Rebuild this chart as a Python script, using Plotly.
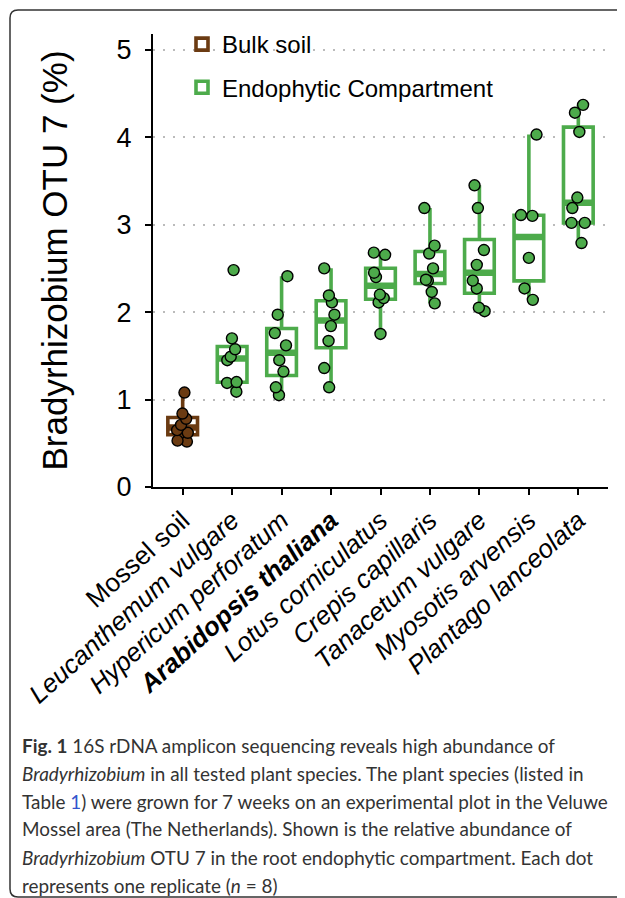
import numpy as np
import plotly.graph_objects as go

# ---------------- data ----------------
categories = ["Mossel soil", "Leucanthemum vulgare", "Hypericum perforatum", "Arabidopsis thaliana",
              "Lotus corniculatus", "Crepis capillaris", "Tanacetum vulgare", "Myosotis arvensis",
              "Plantago lanceolata"]
tick_labels = ["Mossel soil", "<i>Leucanthemum vulgare</i>", "<i>Hypericum perforatum</i>",
               "<b><i>Arabidopsis thaliana</i></b>", "<i>Lotus corniculatus</i>", "<i>Crepis capillaris</i>",
               "<i>Tanacetum vulgare</i>", "<i>Myosotis arvensis</i>", "<i>Plantago lanceolata</i>"]

bulk_soil = [1.08, 0.84, 0.78, 0.71, 0.65, 0.62, 0.53, 0.52]
leucanthemum = [2.48, 1.70, 1.575, 1.49, 1.45, 1.20, 1.19, 1.09]
hypericum = [2.41, 1.97, 1.76, 1.62, 1.45, 1.32, 1.14, 1.05]
arabidopsis = [2.50, 2.19, 2.11, 1.97, 1.84, 1.67, 1.36, 1.14]
lotus = [2.68, 2.655, 2.45, 2.40, 2.20, 2.16, 2.11, 1.75]
crepis = [3.19, 2.76, 2.67, 2.50, 2.37, 2.36, 2.23, 2.10]
tanacetum = [3.45, 3.19, 2.71, 2.54, 2.36, 2.27, 2.05, 2.01]
myosotis = [4.03, 3.11, 3.10, 2.62, 2.27, 2.14]
plantago = [4.37, 4.28, 4.06, 3.31, 3.19, 3.02, 3.02, 2.79]

endophytic = [leucanthemum, hypericum, arabidopsis, lotus, crepis, tanacetum, myosotis, plantago]

y_ticks = [0, 1, 2, 3, 4, 5]

caption_lines = [
    "<b>Fig. 1</b> 16S rDNA amplicon sequencing reveals high abundance of",
    "<i>Bradyrhizobium</i> in all tested plant species. The plant species (listed in",
    "Table <span style='color:#3355cc'>1</span>) were grown for 7 weeks on an experimental plot in the Veluwe",
    "Mossel area (The Netherlands). Shown is the relative abundance of",
    "<i>Bradyrhizobium</i> OTU 7 in the root endophytic compartment. Each dot",
    "represents one replicate (<i>n</i> = 8)",
]

# ---------------- styling ----------------
BROWN = "#6b3b12"
GREEN = "#4dab4b"
OFF = 8                      # page body margin of the browser
W, H = 625 - OFF, 898 - OFF
# plot area, in page pixels
PL, PR, PT, PB = 153, 608, 34, 487
L, R, T, B = PL - OFF, PR - OFF, PT - OFF, PB - OFF


def px_x(px):
    return (px - PL) / (PR - PL)


def px_y(py):
    return (PB - py) / (PB - PT)


def box_stats(vals):
    v = np.sort(np.asarray(vals, dtype=float))
    q1, med, q3 = np.percentile(v, [25, 50, 75])
    iqr = q3 - q1
    lo = v[v >= q1 - 1.5 * iqr].min()
    hi = v[v <= q3 + 1.5 * iqr].max()
    return q1, med, q3, lo, hi


def stats_for(groups):
    s = [box_stats(g) for g in groups]
    return [list(c) for c in zip(*s)]


fig = go.Figure()

groups = [
    ("Bulk soil", BROWN, [categories[0]], [bulk_soil], "bulk"),
    ("Endophytic Compartment", GREEN, categories[1:], endophytic, "endo"),
]

BOXW = 0.6
# boxes
for name, col, cats, vals, grp in groups:
    q1, med, q3, lo, hi = stats_for(vals)
    fig.add_trace(go.Box(
        name=name, x=cats, q1=q1, median=med, q3=q3, lowerfence=lo, upperfence=hi,
        fillcolor="white", line=dict(color=col, width=3.6), whiskerwidth=0,
        boxpoints=False, width=BOXW, legendgroup=grp, showlegend=True, hoverinfo="skip"))
# thick median bands
for name, col, cats, vals, grp in groups:
    q1, med, q3, lo, hi = stats_for(vals)
    fig.add_trace(go.Box(
        name=name, x=cats, q1=med, median=med, q3=med, lowerfence=med, upperfence=med,
        fillcolor=col, line=dict(color=col, width=6.5), whiskerwidth=0,
        boxpoints=False, width=BOXW - 0.04, legendgroup=grp, showlegend=False, hoverinfo="skip"))
# jittered replicate points
for name, col, cats, vals, grp in groups:
    xs, ys = [], []
    for c, v in zip(cats, vals):
        xs += [c] * len(v)
        ys += list(v)
    fig.add_trace(go.Box(
        name=name, x=xs, y=ys, boxpoints="all", jitter=0.55, pointpos=0,
        fillcolor="rgba(0,0,0,0)", line=dict(color="rgba(0,0,0,0)", width=0), whiskerwidth=0,
        marker=dict(color=col, size=11, line=dict(color="black", width=1.4)),
        width=BOXW, legendgroup=grp, showlegend=False, hoverinfo="skip"))

fig.update_layout(
    width=W, height=H,
    margin=dict(l=L, r=W - R, t=T, b=H - B, autoexpand=False),
    paper_bgcolor="white", plot_bgcolor="white",
    boxmode="overlay",
    font=dict(family="Liberation Sans, Arial, sans-serif", color="black"),
    showlegend=True,
    legend=dict(x=px_x(182), y=px_y(22), xanchor="left", yanchor="top",
                font=dict(size=24, color="black"), bgcolor="rgba(0,0,0,0)",
                tracegroupgap=9, traceorder="grouped"),
    xaxis=dict(
        type="category", categoryorder="array", categoryarray=categories,
        tickmode="array", tickvals=categories, ticktext=tick_labels,
        tickangle=-42, tickfont=dict(size=26), range=[-0.6, 8.6],
        showline=True, linecolor="black", linewidth=2, mirror=False,
        ticks="outside", ticklen=6, tickwidth=1.5, tickcolor="black",
        showgrid=False, zeroline=False,
    ),
    yaxis=dict(
        range=[0, 5.18], tickmode="array", tickvals=y_ticks,
        tickfont=dict(size=27), showline=True, linecolor="black", linewidth=2,
        ticks="outside", ticklen=6, tickwidth=1.5, tickcolor="black",
        ticklabelstandoff=8,
        showgrid=True, gridcolor="#bbbbbb", gridwidth=2, griddash="2px,8px",
        zeroline=False,
        title=dict(text="Bradyrhizobium OTU 7 (%)", font=dict(size=35), standoff=38),
    ),
)

# page frame (rounded left corners; right side runs off the page)
fx0, fx1 = px_x(10), px_x(640)
fy0, fy1 = px_y(10), px_y(897)
r_x = px_x(18) - px_x(10)
r_y = px_y(10) - px_y(18)
path = (f"M{fx1},{fy0} L{fx0 + r_x},{fy0} Q{fx0},{fy0} {fx0},{fy0 - r_y} "
        f"L{fx0},{fy1 + r_y} Q{fx0},{fy1} {fx0 + r_x},{fy1} L{fx1},{fy1}")
fig.add_shape(type="path", path=path, xref="paper", yref="paper",
              line=dict(color="#333333", width=1.5), layer="above")

# caption
cap_y = [745, 773, 801, 829, 857, 885]
for line, yy in zip(caption_lines, cap_y):
    fig.add_annotation(text=line, x=px_x(20), y=px_y(yy), xref="paper", yref="paper",
                       xanchor="left", yanchor="middle", showarrow=False, align="left",
                       font=dict(family="Lato, Open Sans, sans-serif", size=18.9, color="#333333"))

fig.write_html("out.html")
